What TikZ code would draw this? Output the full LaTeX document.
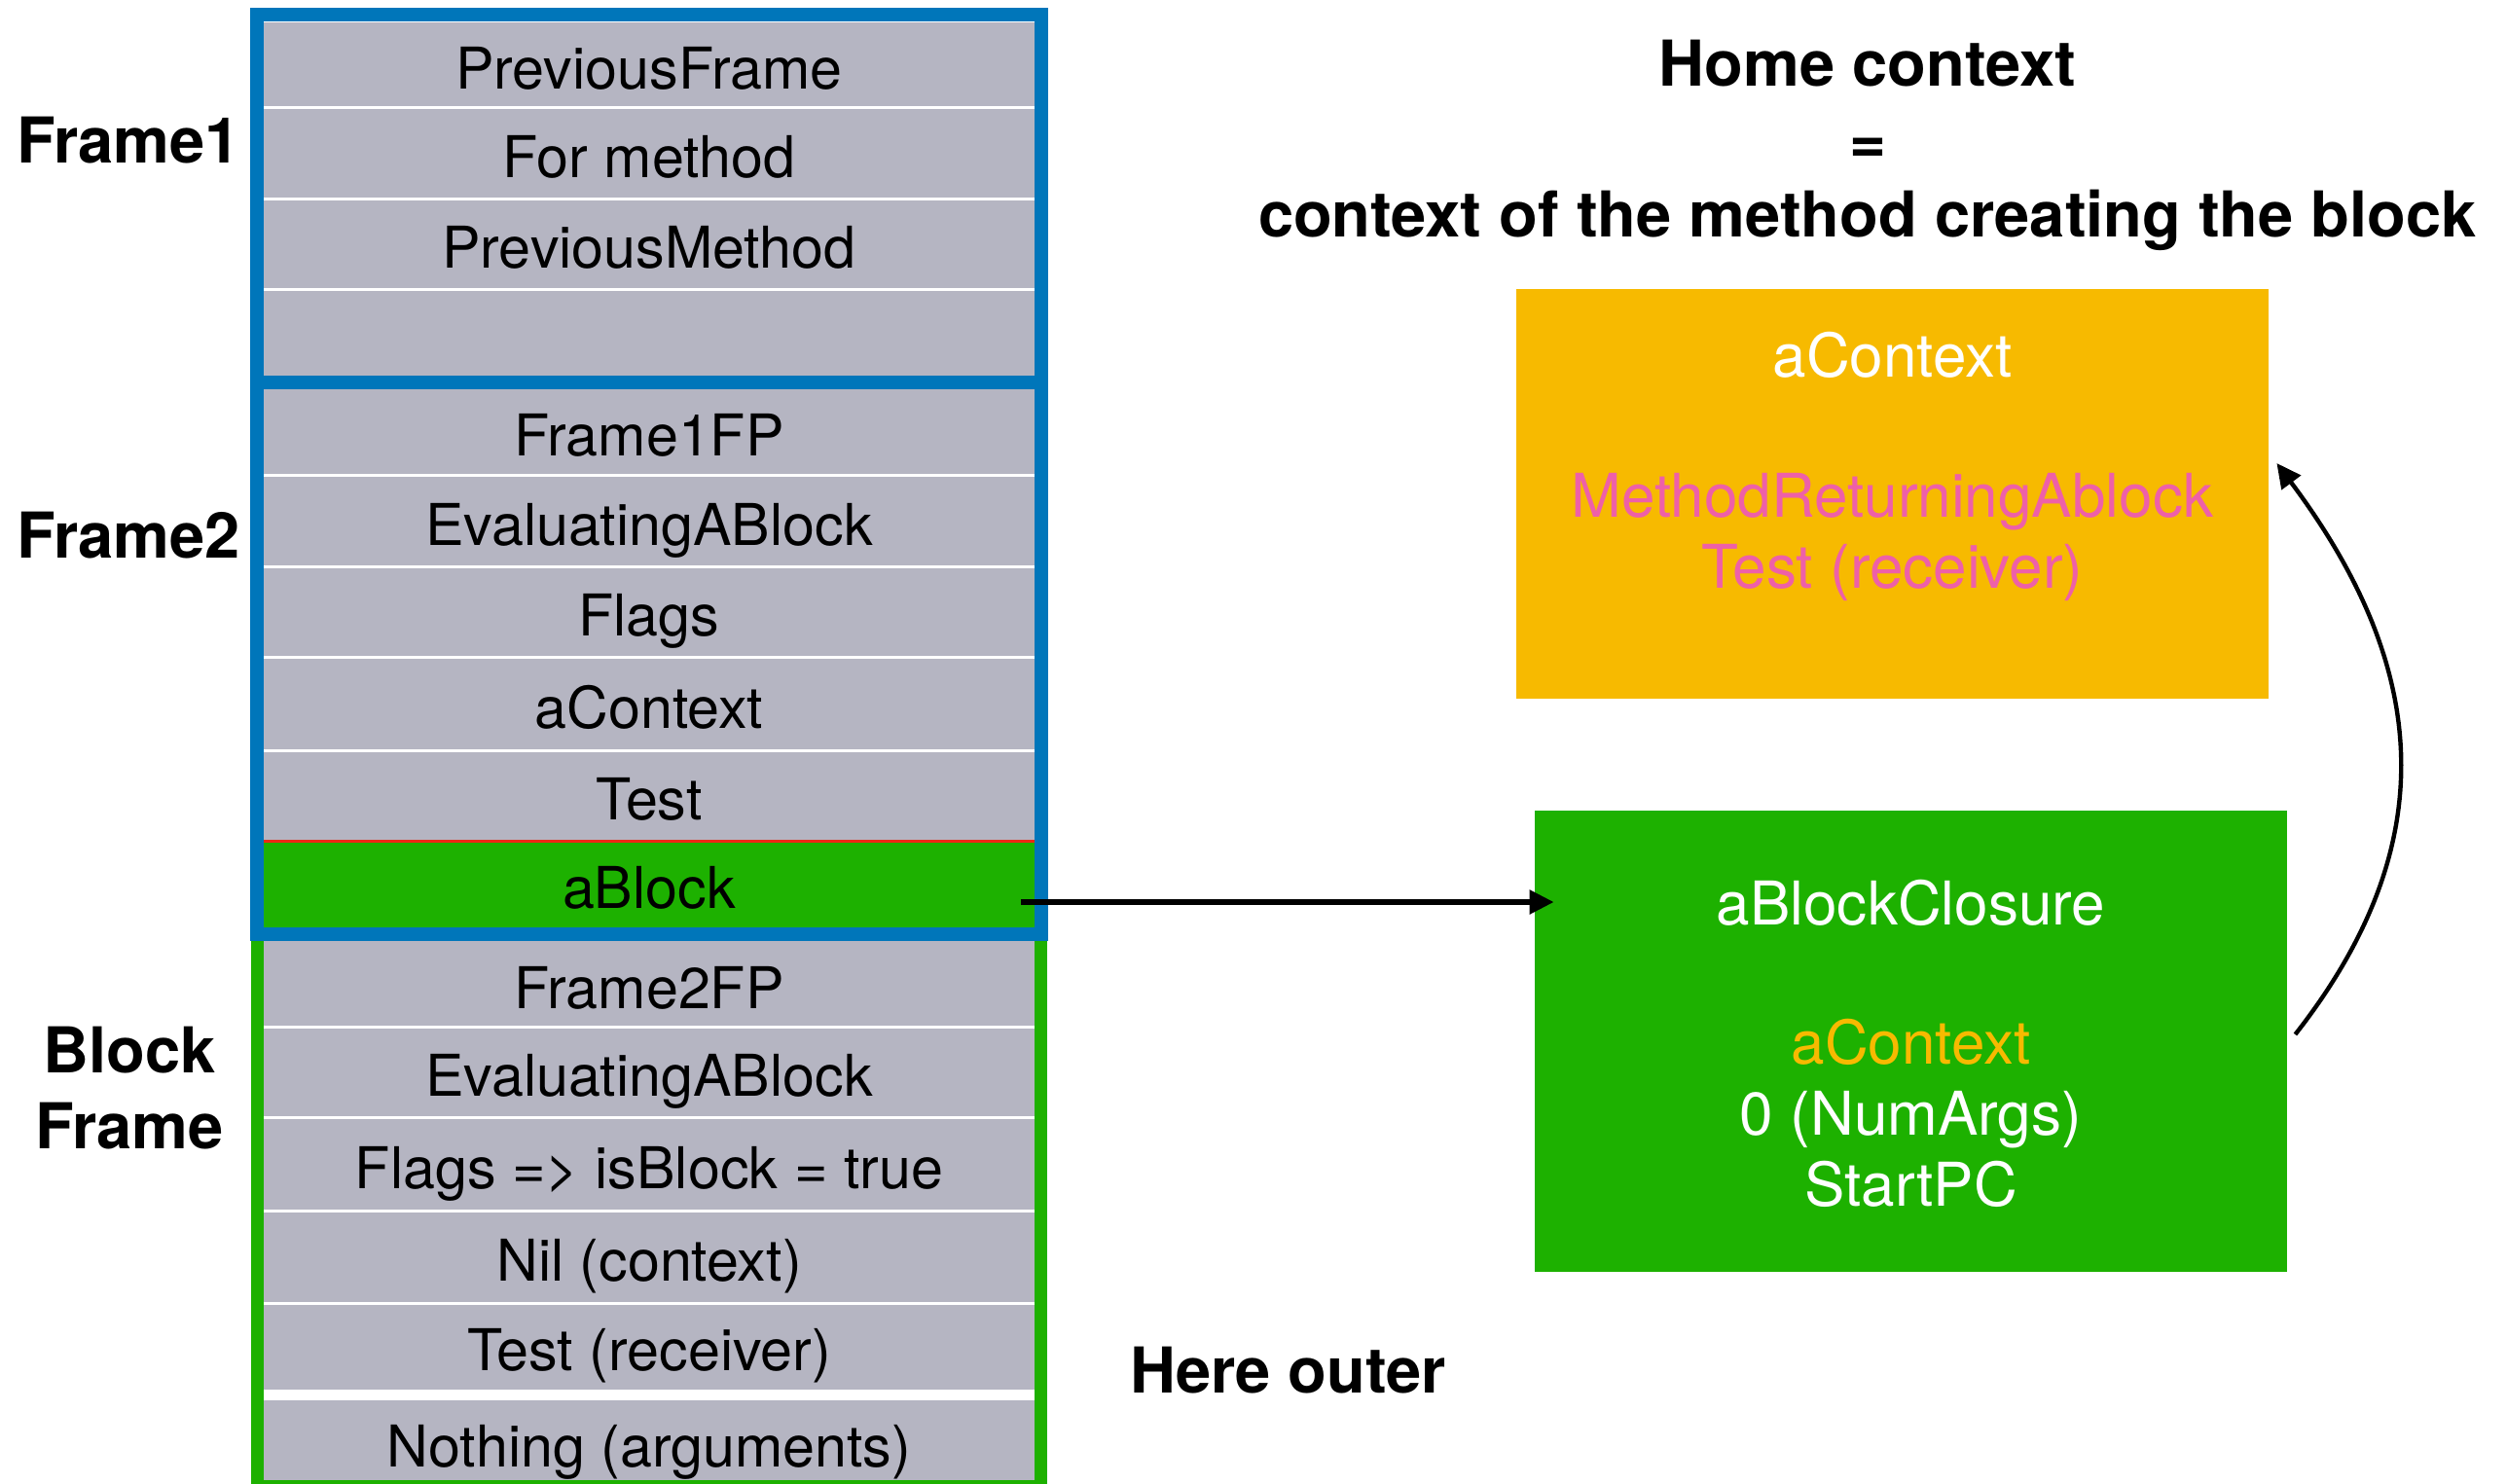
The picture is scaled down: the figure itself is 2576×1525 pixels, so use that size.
\documentclass[tikz,border=0pt]{standalone}
\usepackage{fontspec}
\setmainfont{TeX Gyre Heros}
\usetikzlibrary{arrows.meta}

\definecolor{stackblue}{RGB}{0,118,186}
\definecolor{stackgreen}{RGB}{29,177,0}
\definecolor{slotgray}{RGB}{181,181,194}
\definecolor{ctxorange}{RGB}{247,186,0}
\definecolor{selpink}{RGB}{238,96,168}
\definecolor{slotred}{RGB}{238,40,20}

\begin{document}
\begin{tikzpicture}[x=0.5pt,y=-0.5pt,
  slot/.style={rectangle, fill=slotgray, inner sep=0pt, minimum width=400pt,
    text height=25.2pt, text depth=0pt, font=\fontsize{29.6pt}{34pt}\selectfont},
  slotsep/.style={draw=white, line width=1.5pt},
  blueframe/.style={rectangle, draw=stackblue, line width=7pt, minimum width=402.75pt, inner sep=0pt},
  greenframe/.style={rectangle, draw=stackgreen, line width=6.5pt, minimum width=402.75pt, inner sep=0pt},
  sidelabel/.style={font=\fontsize{32.5pt}{38pt}\selectfont\bfseries, anchor=base},
  objbox/.style={rectangle, inner sep=0pt, minimum width=386.5pt},
  boxtxt/.style={font=\fontsize{31pt}{36pt}\selectfont, anchor=base},
  ptr/.style={draw=black, line width=2.75pt, -{Triangle[length=12.5pt,width=12pt]}}
]
\useasboundingbox (0,0) rectangle (2576,1525);

% ---- stack slots ----
\node[slot, minimum height=43.5pt] (prevframe) at (667,66.5) {PreviousFrame};
\node[slot, minimum height=47pt]   (formethod) at (667,157) {For method};
\node[slot, minimum height=46.5pt] (prevmethod) at (667,250.5) {PreviousMethod};
\node[slot, minimum height=45pt]   (emptyslot) at (667,342) {};

\node[slot, minimum height=44.5pt] (frameonefp) at (667,443.5) {Frame1FP};
\node[slot, minimum height=47pt]   (evalone) at (667,535) {EvaluatingABlock};
\node[slot, minimum height=46.5pt] (flagsone) at (667,628.5) {Flags};
\node[slot, minimum height=48pt]   (actxslot) at (667,723) {aContext};
\node[slot, minimum height=46.5pt] (testslot) at (667,817.5) {Test};
\node[slot, minimum height=44.5pt, fill=stackgreen] (ablock) at (667,908.5) {aBlock};

\node[slot, minimum height=44pt]   (frametwofp) at (667,1011) {Frame2FP};
\node[slot, minimum height=46.5pt] (evaltwo) at (667,1101.5) {EvaluatingABlock};
\node[slot, minimum height=48pt]   (flagstwo) at (667,1196) {Flags => isBlock = true};
\node[slot, minimum height=47.5pt] (nilctx) at (667,1291.5) {Nil (context)};
\node[slot, minimum height=44.5pt] (testrecv) at (667,1383.5) {Test (receiver)};
\node[slot, minimum height=43pt]   (nothingargs) at (667,1482) {Nothing (arguments)};

% slot separators
\foreach \s in {prevframe,formethod,prevmethod,frameonefp,evalone,flagsone,actxslot,
                frametwofp,evaltwo,flagstwo,nilctx}
  \draw[slotsep] (\s.south west) -- (\s.south east);
\draw[draw=slotred, line width=1.5pt] (testslot.south west) -- (testslot.south east);

% ---- frame outlines ----
\node[greenframe, minimum height=283.5pt] (blockframe) at (666.75,1243.5) {};
\node[blueframe, minimum height=283.5pt] (frametwo) at (666.75,676.5) {};
\node[blueframe, minimum height=189pt] (frameone) at (666.75,204) {};

% ---- frame names ----
\node[sidelabel, anchor=base west] (lblone) at (10,168) {Frame1};
\node[sidelabel, anchor=base west] (lbltwo) at (10,573) {Frame2};
\node[sidelabel] (lblblock) at (133,1102) {Block};
\node[sidelabel] (lblframe) at (133,1180) {Frame};
\node[sidelabel, anchor=base west] (hereouter) at (1154,1431) {Here outer};

% ---- heading ----
\node[sidelabel] (headone) at (1919,89) {Home context};
\node[sidelabel] (headtwo) at (1919,168) {=};
\node[sidelabel] (headthree) at (1919,243) {context of the method creating the block};

% ---- heap objects ----
\node[objbox, fill=ctxorange, minimum height=210.5pt] (homectx) at (1944.5,507.5) {};
\node[boxtxt, text=white] (ctxtitle) at (1944.5,387) {aContext};
\node[boxtxt, text=selpink] (ctxmethod) at (1944.5,531) {MethodReturningAblock};
\node[boxtxt, text=selpink] (ctxrecv) at (1944.5,604) {Test (receiver)};

\node[objbox, fill=stackgreen, minimum height=237pt] (closure) at (1963.5,1070) {};
\node[boxtxt, text=white] (clotitle) at (1963.5,950) {aBlockClosure};
\node[boxtxt, text=ctxorange] (cloctx) at (1963.5,1093) {aContext};
\node[boxtxt, text=white] (cloargs) at (1963.5,1166) {0 (NumArgs)};
\node[boxtxt, text=white] (clopc) at (1963.5,1239) {StartPC};

% ---- pointers ----
\coordinate (slotout) at ([shift={(-18,18.5)}]ablock.east);
\coordinate (cloin) at ([shift={(20,0)}]closure.west);
\draw[ptr] (slotout) -- (slotout -| cloin);

\draw[ptr, line width=2.2pt] ([shift={(8,-7)}]closure.east)
  .. controls (2516,862) and (2492,680) .. ([shift={(8,-31.5)}]homectx.east);
\end{tikzpicture}
\end{document}
